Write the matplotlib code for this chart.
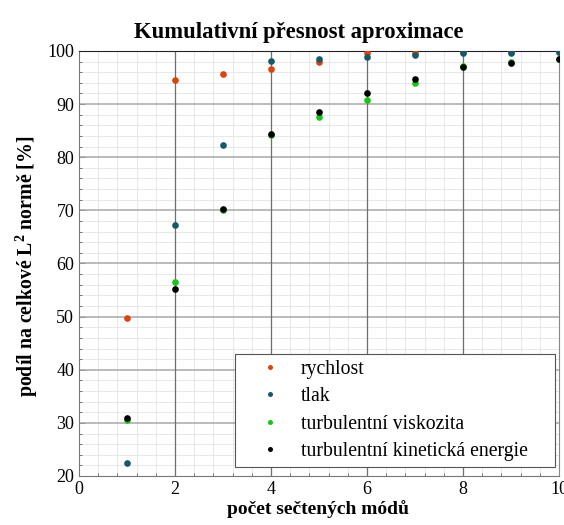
import matplotlib
matplotlib.use("Agg")
import matplotlib.pyplot as plt
from matplotlib.ticker import MultipleLocator

plt.rcParams['font.family'] = ['Liberation Serif', 'DejaVu Serif']
plt.rcParams['mathtext.fontset'] = 'custom'
plt.rcParams['mathtext.rm'] = 'Liberation Serif'
plt.rcParams['mathtext.bf'] = 'Liberation Serif:bold'

modes = [1, 2, 3, 4, 5, 6, 7, 8, 9, 10]
rychlost = [49.8, 94.5, 95.6, 96.6, 98.0, 99.6, 99.7, 99.8, 99.85, 99.9]
tlak = [22.5, 67.2, 82.3, 98.1, 98.4, 98.8, 99.2, 99.7, 99.7, 99.75]
viskozita = [30.5, 56.6, 70.1, 84.2, 87.6, 90.7, 93.9, 97.2, 97.9, 98.5]
kinet = [31.0, 55.2, 70.3, 84.4, 88.5, 92.1, 94.7, 96.9, 97.7, 98.4]

series = [
    ("rychlost", rychlost, "#d9440f"),
    ("tlak", tlak, "#17596b"),
    ("turbulentní viskozita", viskozita, "#19c419"),
    ("turbulentní kinetická energie", kinet, "#000000"),
]

fig = plt.figure(figsize=(5.64, 5.25), dpi=100)
ax = fig.add_axes([79/564, 1-476/525, 480/564, 425/525])

for name, vals, col in series:
    ax.plot(modes, vals, linestyle='none', marker='o', ms=4.8, mec='none', mfc=col, label=name, zorder=3)

ax.set_xlim(0, 10)
ax.set_ylim(20, 100)
ax.xaxis.set_major_locator(MultipleLocator(2))
ax.xaxis.set_minor_locator(MultipleLocator(0.4))
ax.yaxis.set_major_locator(MultipleLocator(10))
ax.yaxis.set_minor_locator(MultipleLocator(2))

ax.grid(which='minor', color='#e4e4e4', lw=0.6, ls='-')
ax.set_axisbelow(True)
for xv in ax.get_xticks():
    if 0 < xv < 10:
        ax.axvline(xv, color='#6e6e6e', lw=0.9, zorder=1)
for yv in ax.get_yticks():
    if 20 < yv < 100:
        ax.axhline(yv, color='#a8a8a8', lw=1.1, zorder=0.9)

ax.tick_params(which='both', direction='in', labelsize=13, colors='#444444', labelcolor='black')
ax.tick_params(which='major', length=4, width=0.6)
ax.tick_params(which='minor', length=2, width=0.5)
for s in ['left', 'bottom']:
    ax.spines[s].set_color('#777777')
ax.spines['top'].set_color('#222222')
ax.spines['right'].set_color('#888888')

ax.set_title("Kumulativní přesnost aproximace", fontsize=16.3, fontweight='bold', pad=9, x=0.458)
ax.set_xlabel("počet sečtených módů", fontsize=14, fontweight='bold')
ax.xaxis.set_label_coords((318 - 79) / 480, -(500 - 476) / 425)
ax.set_ylabel(r"podíl na celkové L$^{\mathbf{2}}$ normě [%]", fontsize=14.3, fontweight='bold')
ax.yaxis.set_label_coords(-(79 - 40) / 480, (476 - 266) / 425)

leg = ax.legend(loc='lower left', bbox_to_anchor=(0.325, 0.0212, 0.667, 0.2635), mode='expand',
                fontsize=14.2, frameon=True, fancybox=False,
                edgecolor='#555555', framealpha=1, handletextpad=0.15, borderpad=0.3,
                labelspacing=0.43, handlelength=2.9, borderaxespad=0, markerscale=0.75)
leg.get_frame().set_linewidth(0.8)

fig.savefig("out.png", dpi=100)
